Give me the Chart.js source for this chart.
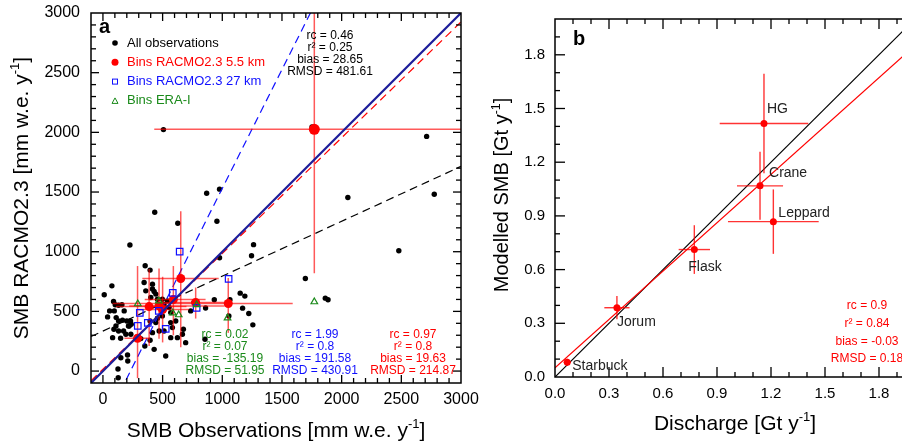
<!DOCTYPE html>
<html>
<head>
<meta charset="utf-8">
<script src="https://cdn.jsdelivr.net/npm/chart.js@4.4.1/dist/chart.umd.min.js"></script>
<style>
  html, body { margin: 0; padding: 0; background: #fff; overflow: hidden; width: 902px; height: 447px; }
  #ca { position: absolute; left: 0; top: 0; }
  #cb { position: absolute; left: 480px; top: 0; }
</style>
</head>
<body>
<canvas id="ca" width="490" height="447"></canvas>
<canvas id="cb" width="450" height="447"></canvas>
<script>
const FONT = "'Liberation Sans', Arial, Helvetica, sans-serif"
Chart.defaults.font.family = FONT
Chart.defaults.color = '#000'

// ---- panel a: SMB observations vs RACMO2.3 (mm w.e. / yr) ----
const obsX = [507,1752,2712,869,977,2052,2776,434,627,955,
  226,1262,1245,2479,977,1696,1863,1886,1150,1189,
  1170,1222,1256,1064,933,860,855,354,395,75,
  11,89,103,159,56,95,39,111,131,164,
  200,231,237,214,109,92,131,173,192,234,
  81,148,317,395,351,150,206,128,345,415,
  359,429,401,457,498,540,512,554,568,498,
  457,395,443,568,610,582,512,471,415,624,
  674,763,568,735,1055,126,208,131,178,220,
  415,443,666,693,429,526]
const obsY = [2023,2045,1966,1490,1524,1454,1482,1330,1238,1255,
  1056,1059,966,1008,950,776,611,597,653,628,
  527,482,387,597,597,529,266,882,846,714,
  639,583,555,555,504,504,454,448,420,426,
  420,420,392,378,378,350,336,336,308,308,
  280,275,272,258,210,112,134,-56,742,728,
  672,667,616,602,602,588,555,532,490,462,
  443,420,406,406,420,364,336,336,322,280,
  350,574,280,504,462,17,84,552,504,378,
  687,645,308,238,182,126]

// RACMO2.3 5.5 km bins with ranges
const binRX   = [290, 387, 470, 500, 590, 652, 777, 1050, 1771]
const binRY   = [275, 540, 546, 515, 600, 776, 574, 566, 2025]
const binRXLo = [180, 110, 220, 300, 350, 330, 500, 80, 430]
const binRXHi = [390, 700, 1020, 720, 860, 970, 1060, 1590, 3150]
const binRYLo = [-60, 210, 270, 240, 300, 200, 440, 320, 820]
const binRYHi = [880, 855, 860, 790, 880, 1340, 700, 780, 3250]

// RACMO2.3 27 km bins
const binBX = [292, 309, 376, 468, 526, 585, 643, 785, 1053]
const binBY = [378, 487, 403, 504, 353, 655, 1000, 529, 773]

// ERA-Interim bins
const binGX = [292, 468, 585, 635, 785, 1044, 1771]
const binGY = [563, 588, 487, 471, 555, 445, 580]

// fits: all obs, 27 km, 5.5 km
const fitSlopeA     = [0.46, 1.99, 0.97]
const fitInterceptA = [335, -459, 15]

const statsAll = ['rc = 0.46', 'r² = 0.25', 'bias = 28.65', 'RMSD = 481.61']
const statsEra = ['rc = 0.02', 'r² = 0.07', 'bias = -135.19', 'RMSD = 51.95']
const stats27  = ['rc = 1.99', 'r² = 0.8', 'bias = 191.58', 'RMSD = 430.91']
const stats55  = ['rc = 0.97', 'r² = 0.8', 'bias = 19.63', 'RMSD = 214.87']
const legendA  = ['All observations', 'Bins RACMO2.3 5.5 km', 'Bins RACMO2.3 27 km', 'Bins ERA-I']
const ticksA   = [0, 500, 1000, 1500, 2000, 2500, 3000]

// ---- panel b: discharge vs modelled SMB (Gt / yr) ----
const glaciers = ['Starbuck', 'Jorum', 'Flask', 'Crane', 'HG', 'Leppard']
const disX   = [0.068, 0.344, 0.774, 1.139, 1.161, 1.213]
const smbY   = [0.082, 0.387, 0.712, 1.068, 1.416, 0.868]
const disErr = [0.02, 0.07, 0.087, 0.128, 0.246, 0.252]
const smbErr = [0.02, 0.065, 0.136, 0.19, 0.278, 0.18]
const fitSlopeB = 0.9, fitInterceptB = 0.052
const statsB = ['rc = 0.9', 'r² = 0.84', 'bias = -0.03', 'RMSD = 0.18']
const ticksB = [0, 0.3, 0.6, 0.9, 1.2, 1.5, 1.8]

const RED = '#ff0000', BLUE = '#1010ff', GREEN = '#1a8a1a', NAVY = '#1c1c9a'

// ---------- helpers ----------
function richText(ctx, parts, x, y, size, rot) {
  ctx.save()
  ctx.translate(x, y)
  ctx.rotate(rot)
  ctx.fillStyle = '#000'
  ctx.textAlign = 'left'
  ctx.textBaseline = 'alphabetic'
  const f = p => `${p.sup ? size * 0.62 : size}px ${FONT}`
  let w = 0
  parts.forEach(p => { ctx.font = f(p); w += ctx.measureText(p.t).width })
  let cx = -w / 2
  parts.forEach(p => {
    ctx.font = f(p)
    ctx.fillText(p.t, cx, p.sup ? -size * 0.42 : 0)
    cx += ctx.measureText(p.t).width
  })
  ctx.restore()
}

function textBlock(ctx, lines, cx, y0, dy, color, size) {
  ctx.save()
  ctx.fillStyle = color
  ctx.font = `${size}px ${FONT}`
  ctx.textAlign = 'center'
  ctx.textBaseline = 'middle'
  lines.forEach((s, i) => ctx.fillText(s, cx, y0 + i * dy))
  ctx.restore()
}

// inward ticks on all four sides plus the box
function tickFrame(id, min, step, n, majorEvery, majLen, minLen) {
  return {
    id,
    afterDraw(chart) {
      const ctx = chart.ctx
      const a = chart.chartArea
      const sx = chart.scales.x, sy = chart.scales.y
      ctx.save()
      ctx.fillStyle = '#000'
      const w = 1.3
      for (let i = 1; i < n; i++) {
        const v = min + i * step
        const k = Math.round(v / step)
        const len = k % majorEvery === 0 ? majLen : minLen
        const px = sx.getPixelForValue(v)
        const py = sy.getPixelForValue(v)
        ctx.fillRect(px - w / 2, a.bottom - len, w, len)
        ctx.fillRect(px - w / 2, a.top, w, len)
        ctx.fillRect(a.left, py - w / 2, len, w)
        ctx.fillRect(a.right - len, py - w / 2, len, w)
      }
      ctx.strokeStyle = '#000'
      ctx.lineWidth = 1.5
      ctx.strokeRect(a.left, a.top, a.right - a.left, a.bottom - a.top)
      ctx.restore()
    }
  }
}

function errBars(id, dsIndex, xs, ys, xLo, xHi, yLo, yHi, color, width) {
  return {
    id,
    beforeDatasetDraw(chart, args) {
      if (args.index !== dsIndex) return
      const { ctx, chartArea: a, scales: { x, y } } = chart
      ctx.save()
      ctx.beginPath()
      ctx.rect(a.left, a.top, a.width, a.height)
      ctx.clip()
      ctx.strokeStyle = color
      ctx.lineWidth = width
      xs.forEach((xv, i) => {
        const px = x.getPixelForValue(xv), py = y.getPixelForValue(ys[i])
        ctx.beginPath()
        ctx.moveTo(x.getPixelForValue(xLo[i]), py); ctx.lineTo(x.getPixelForValue(xHi[i]), py)
        ctx.stroke()
        ctx.beginPath()
        ctx.moveTo(px, y.getPixelForValue(yLo[i])); ctx.lineTo(px, y.getPixelForValue(yHi[i]))
        ctx.stroke()
      })
      ctx.restore()
    }
  }
}

const pts = (xs, ys) => xs.map((v, i) => ({ x: v, y: ys[i] }))
const fitLine = (m, b, x0, x1) => [{ x: x0, y: m * x0 + b }, { x: x1, y: m * x1 + b }]

function axes(min, max, ticks, fmt, size, yW, xH, padX, padY) {
  const common = {
    type: 'linear', min, max,
    grid: { display: false, drawTicks: false },
    border: { display: false },
    afterBuildTicks: s => { s.ticks = ticks.map(v => ({ value: v })) },
  }
  return {
    x: { ...common,
         afterFit: s => { s.height = xH; s.paddingLeft = 0; s.paddingRight = 0 },
         ticks: { font: { size }, padding: padX, maxRotation: 0, autoSkip: false, color: '#000', callback: fmt } },
    y: { ...common,
         afterFit: s => { s.width = yW; s.paddingTop = 0; s.paddingBottom = 0 },
         ticks: { font: { size }, padding: padY, autoSkip: false, color: '#000', callback: fmt } },
  }
}

// ---------- chart a ----------
const notesA = {
  id: 'notesA',
  afterDraw(chart) {
    const ctx = chart.ctx
    ctx.save()
    ctx.fillStyle = '#000'
    ctx.font = `bold 20px ${FONT}`
    ctx.textBaseline = 'alphabetic'
    ctx.fillText('a', 99, 33)

    // legend
    const colors = ['#000', RED, BLUE, GREEN]
    ctx.font = `13px ${FONT}`
    ctx.textBaseline = 'middle'
    legendA.forEach((s, i) => {
      const y = 43 + i * 19.3, x = 115
      ctx.fillStyle = colors[i]
      ctx.strokeStyle = colors[i]
      ctx.lineWidth = 1
      if (i === 0) { ctx.beginPath(); ctx.arc(x, y, 2.8, 0, 2 * Math.PI); ctx.fill() }
      if (i === 1) { ctx.beginPath(); ctx.arc(x, y, 3.5, 0, 2 * Math.PI); ctx.fill() }
      if (i === 2) ctx.strokeRect(x - 2.5, y - 2.5, 5, 5)
      if (i === 3) { ctx.beginPath(); ctx.moveTo(x, y - 3); ctx.lineTo(x + 3, y + 2.5); ctx.lineTo(x - 3, y + 2.5); ctx.closePath(); ctx.stroke() }
      ctx.fillText(s, 127, y)
    })
    ctx.restore()

    textBlock(ctx, statsAll, 330, 36, 12, '#000', 12)
    textBlock(ctx, statsEra, 225, 335, 12, GREEN, 12)
    textBlock(ctx, stats27, 315, 335, 12, BLUE, 12)
    textBlock(ctx, stats55, 413, 335, 12, RED, 12)

    const a = chart.chartArea
    richText(ctx, [{ t: 'SMB Observations [mm w.e. y' }, { t: '-1', sup: true }, { t: ']' }],
      (a.left + a.right) / 2, 437, 21, 0)
    richText(ctx, [{ t: 'SMB RACMO2.3 [mm w.e. y' }, { t: '-1', sup: true }, { t: ']' }],
      28, (a.top + a.bottom) / 2, 21, -Math.PI / 2)
  }
}

new Chart(document.getElementById('ca'), {
  type: 'scatter',
  data: {
    datasets: [
      { data: pts(binGX, binGY), pointStyle: 'triangle', pointRadius: 3.8, borderColor: GREEN,
        backgroundColor: 'rgba(0,0,0,0)', borderWidth: 1.2, order: 0 },
      { data: pts(binBX, binBY), pointStyle: 'rect', pointRadius: 4.6, borderColor: BLUE,
        backgroundColor: 'rgba(0,0,0,0)', borderWidth: 1.2, order: 1 },
      { data: fitLine(1, 0, -100, 3000), showLine: true, pointRadius: 0, borderColor: NAVY, borderWidth: 2.2, order: 2 },
      { data: pts(binRX, binRY), pointStyle: 'circle', backgroundColor: RED, borderWidth: 0, order: 3,
        pointRadius: c => (c.raw && c.raw.y > 1500 ? 5.5 : 4.5) },
      { data: fitLine(fitSlopeA[2], fitInterceptA[2], -100, 3000), showLine: true, pointRadius: 0,
        borderColor: RED, borderWidth: 1.2, borderDash: [8, 5], order: 4 },
      { data: fitLine(fitSlopeA[1], fitInterceptA[1], -100, 3000), showLine: true, pointRadius: 0,
        borderColor: BLUE, borderWidth: 1.2, borderDash: [8, 5], order: 5 },
      { data: fitLine(fitSlopeA[0], fitInterceptA[0], -100, 3000), showLine: true, pointRadius: 0,
        borderColor: '#000', borderWidth: 1.2, borderDash: [8, 5], order: 6 },
      { data: pts(obsX, obsY), pointStyle: 'circle', pointRadius: 2.7, backgroundColor: '#000', borderWidth: 0, order: 7 },
    ]
  },
  options: {
    responsive: false,
    animation: false,
    events: [],
    layout: { padding: { top: 13, right: 29, left: 0, bottom: 0 } },
    plugins: { legend: { display: false }, tooltip: { enabled: false } },
    scales: axes(-100, 3000, ticksA, v => String(v), 16, 91, 64, 7, 11),
  },
  plugins: [
    errBars('errA', 3, binRX, binRY, binRXLo, binRXHi, binRYLo, binRYHi, 'rgba(255,0,0,0.65)', 1.5),
    tickFrame('frameA', -100, 100, 31, 5, 8, 5),
    notesA,
  ]
})

// ---------- chart b ----------
const OFFB = 480
const labelOffsets = [[5, 8], [0, 18], [-6, 21], [9, -9], [3, -11], [5, -5]]

const notesB = {
  id: 'notesB',
  afterDraw(chart) {
    const { ctx, chartArea: a, scales: { x, y } } = chart
    ctx.save()
    ctx.fillStyle = '#000'
    ctx.font = `bold 20px ${FONT}`
    ctx.textBaseline = 'alphabetic'
    ctx.fillText('b', 573 - OFFB, 45)

    ctx.font = `14px ${FONT}`
    ctx.fillStyle = '#222'
    glaciers.forEach((g, i) => {
      ctx.fillText(g, x.getPixelForValue(disX[i]) + labelOffsets[i][0],
        y.getPixelForValue(smbY[i]) + labelOffsets[i][1])
    })
    ctx.restore()

    textBlock(ctx, statsB, 867 - OFFB, 306, 17.6, RED, 12)

    richText(ctx, [{ t: 'Discharge [Gt y' }, { t: '-1', sup: true }, { t: ']' }],
      (a.left + a.right) / 2, 430, 21, 0)
    richText(ctx, [{ t: 'Modelled SMB [Gt y' }, { t: '-1', sup: true }, { t: ']' }],
      508 - OFFB, (a.top + a.bottom) / 2 - 3, 20, -Math.PI / 2)
  }
}

new Chart(document.getElementById('cb'), {
  type: 'scatter',
  data: {
    datasets: [
      { data: pts(disX, smbY), pointStyle: 'circle', pointRadius: 3.5, backgroundColor: RED, borderWidth: 0, order: 0 },
      { data: fitLine(fitSlopeB, fitInterceptB, 0, 2), showLine: true, pointRadius: 0, borderColor: RED, borderWidth: 1.2, order: 1 },
      { data: fitLine(1, 0, 0, 2), showLine: true, pointRadius: 0, borderColor: '#000', borderWidth: 1.2, order: 2 },
    ]
  },
  options: {
    responsive: false,
    animation: false,
    events: [],
    layout: { padding: { top: 19, right: 15, left: 0, bottom: 0 } },
    plugins: { legend: { display: false }, tooltip: { enabled: false } },
    scales: axes(0, 2, ticksB, v => v.toFixed(1), 15, 75, 70, 8, 10),
  },
  plugins: [
    errBars('errB', 0, disX, smbY,
      disX.map((v, i) => v - disErr[i]), disX.map((v, i) => v + disErr[i]),
      smbY.map((v, i) => v - smbErr[i]), smbY.map((v, i) => v + smbErr[i]),
      'rgba(255,0,0,0.8)', 1.4),
    tickFrame('frameB', 0, 0.1, 20, 3, 10, 5),
    notesB,
  ]
})
</script>
</body>
</html>
